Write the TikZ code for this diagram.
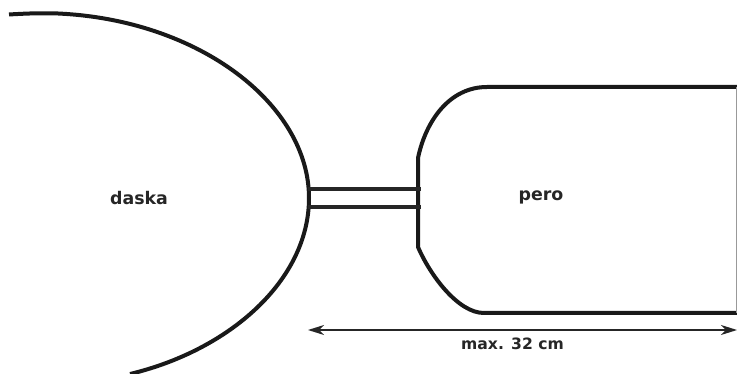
\documentclass[tikz,border=0pt]{standalone}
\usepackage{fontspec}
\setmainfont{DejaVu Sans}
\usetikzlibrary{arrows.meta}
\tikzset{
  outline/.style={line width=4pt,draw=black!90,line cap=butt},
  rail/.style={line width=3.6pt,draw=black!85},
  edgeline/.style={line width=1pt,draw=black!40},
  dimline/.style={line width=1.7pt,draw=black!85,{Stealth[length=16pt,width=10pt,inset=5pt]}-{Stealth[length=16pt,width=10pt,inset=5pt]}},
  lbl/.style={font=\bfseries\fontsize{17.4pt}{20pt}\selectfont,text=black!85,inner sep=0pt},
  dimlbl/.style={font=\bfseries\fontsize{15.6pt}{18pt}\selectfont,text=black!85,inner sep=0pt}
}
\begin{document}
\begin{tikzpicture}[x=1pt,y=-1pt]
\useasboundingbox (0,0) rectangle (737,374);
% board
\coordinate (boardA) at (308,189);
\coordinate (boardB) at (308,207);
\draw[outline] (9,14.5) .. controls (30,13.2) and (45,13) .. (58,13.5)
  .. controls (200,20) and (309,105) .. (309,198)
  .. controls (309,280) and (230,350) .. (130,374);
% blade
\coordinate (bladeA) at (421,189);
\coordinate (bladeB) at (421,207);
\draw[outline] (737,87) -- (487,87) .. controls (450,87) and (426,120) .. (418,158)
  -- (418,247) .. controls (430,275) and (458,313) .. (484,313) -- (737,313);
\draw[edgeline] (736.5,87) -- (736.5,313);
% shaft
\draw[rail] (boardA) -- (bladeA);
\draw[rail] (boardB) -- (bladeB);
% labels
\node[lbl] (daska) at (139,198) {daska};
\node[lbl] (pero) at (541,197) {pero};
% dimension
\coordinate (dimL) at (308,330);
\coordinate (dimR) at (737,330);
\draw[dimline] (dimL) -- (dimR);
\node[dimlbl] (dim) at (512.5,344) {max. 32 cm};
\end{tikzpicture}
\end{document}
